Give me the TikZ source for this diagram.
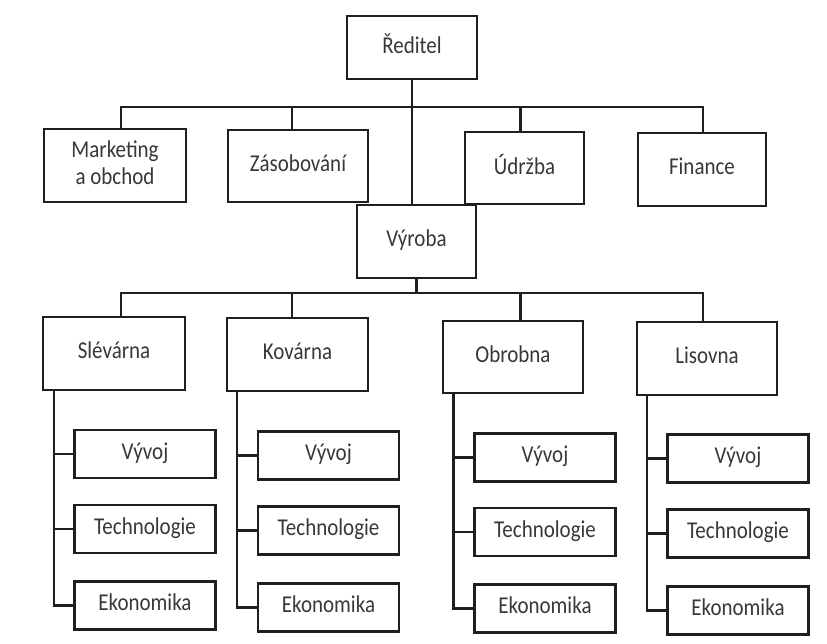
\documentclass[tikz,border=0pt]{standalone}
\usepackage{fontspec}
\setmainfont{Carlito}
% labels are set a little taller than wide
\newcommand{\tallbox}[1]{\scalebox{1}[1.15]{\begin{tabular}{@{}c@{}}#1\end{tabular}}}
\begin{document}
\begin{tikzpicture}[x=1pt,y=-1pt,
  box/.style={draw=black!88, line width=2.5pt, rectangle, fill=white,
    text=black!78, align=center, inner sep=2pt, font=\fontsize{21}{23}\selectfont},
  link/.style={draw=black!88, line width=2.5pt, line cap=rect}]
\fill[white] (0,0) rectangle (827,644);
\useasboundingbox (0,0) rectangle (827,644);

% top management
\node[box, minimum width=130pt, minimum height=63pt] (red) at (412,47.5) {\tallbox{Ředitel}};
\node[box, minimum width=142pt, minimum height=73pt] (mkt) at (115,165.5) {\tallbox{Marketing\\a obchod}};
\node[box, minimum width=140pt, minimum height=72pt] (zas) at (298,166) {\tallbox{Zásobování}};
\node[box, minimum width=119pt, minimum height=72pt] (udr) at (524.5,168) {\tallbox{Údržba}};
\node[box, minimum width=128pt, minimum height=73pt] (fin) at (702,169.5) {\tallbox{Finance}};
\node[box, minimum width=119pt, minimum height=73pt] (vyr) at (416.5,241.5) {\tallbox{Výroba}};

% plants
\node[box, minimum width=142pt, minimum height=73pt] (sle) at (114,353.5) {\tallbox{Slévárna}};
\node[box, minimum width=141pt, minimum height=73pt] (kov) at (297.5,354.5) {\tallbox{Kovárna}};
\node[box, minimum width=140pt, minimum height=72pt] (obr) at (513,357) {\tallbox{Obrobna}};
\node[box, minimum width=140pt, minimum height=73pt] (lis) at (707,358.5) {\tallbox{Lisovna}};

% departments of each plant
\tikzset{sub/.style={box, minimum width=141pt, minimum height=48pt}}
\node[sub] (v1) at (145,454) {\tallbox{Vývoj}};
\node[sub] (t1) at (145,529) {\tallbox{Technologie}};
\node[sub] (e1) at (145,605.5) {\tallbox{Ekonomika}};
\node[sub] (v2) at (328.5,455.5) {\tallbox{Vývoj}};
\node[sub] (t2) at (328.5,530.5) {\tallbox{Technologie}};
\node[sub] (e2) at (328.5,607.5) {\tallbox{Ekonomika}};
\node[sub] (v3) at (545,457.5) {\tallbox{Vývoj}};
\node[sub] (t3) at (545,532) {\tallbox{Technologie}};
\node[sub] (e3) at (545,608.5) {\tallbox{Ekonomika}};
\node[sub] (v4) at (738,458.5) {\tallbox{Vývoj}};
\node[sub] (t4) at (738,533.5) {\tallbox{Technologie}};
\node[sub] (e4) at (738,610.5) {\tallbox{Ekonomika}};

% upper bus
\coordinate (ua) at (121,107);
\coordinate (ub) at (292,107);
\coordinate (uc) at (520.5,107);
\coordinate (ud) at (703,107);
\draw[link] (ua) -- (ud);
\draw[link] (ua) -- (ua |- mkt.north);
\draw[link] (ub) -- (ub |- zas.north);
\draw[link] (uc) -- (uc |- udr.north);
\draw[link] (ud) -- (ud |- fin.north);
\draw[link] (red.south) -- (red.south |- vyr.north);

% lower bus
\coordinate (la) at (121,293);
\coordinate (lb) at (292,293);
\coordinate (lc) at (520.5,293);
\coordinate (ld) at (703,293);
\draw[link] (la) -- (ld);
\draw[link] (vyr.south) -- (vyr.south |- la);
\draw[link] (la) -- (la |- sle.north);
\draw[link] (lb) -- (lb |- kov.north);
\draw[link] (lc) -- (lc |- obr.north);
\draw[link] (ld) -- (ld |- lis.north);

% department spines
\coordinate (s1) at (54,0);
\coordinate (s2) at (237,0);
\coordinate (s3) at (453.5,0);
\coordinate (s4) at (647,0);
\draw[link] (s1 |- sle.south) |- (e1.west);
\draw[link] (s1 |- v1) -- (v1.west);
\draw[link] (s1 |- t1) -- (t1.west);
\draw[link] (s2 |- kov.south) |- (e2.west);
\draw[link] (s2 |- v2) -- (v2.west);
\draw[link] (s2 |- t2) -- (t2.west);
\draw[link] (s3 |- obr.south) |- (e3.west);
\draw[link] (s3 |- v3) -- (v3.west);
\draw[link] (s3 |- t3) -- (t3.west);
\draw[link] (s4 |- lis.south) |- (e4.west);
\draw[link] (s4 |- v4) -- (v4.west);
\draw[link] (s4 |- t4) -- (t4.west);
\end{tikzpicture}
\end{document}
